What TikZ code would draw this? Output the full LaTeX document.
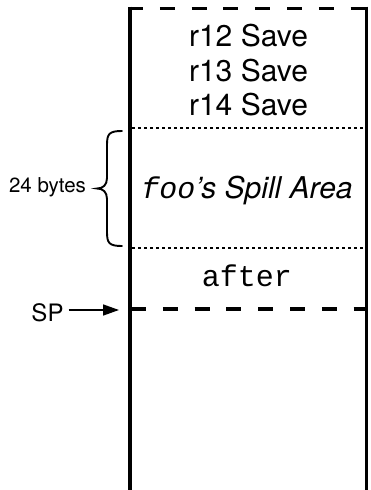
\documentclass[tikz,border=0pt]{standalone}
\usepackage{fontspec}
\setmainfont{TeX Gyre Heros}
\newfontfamily\monofont{Liberation Mono}
\usetikzlibrary{arrows.meta}
\tikzset{
  wall/.style={line width=4pt},
  rwall/.style={line width=2.5pt},
  bigdash/.style={line width=3.6pt, dash pattern=on 15pt off 16.8pt},
  smalldot/.style={line width=1.6pt, dash pattern=on 3pt off 3pt},
  lbl/.style={anchor=base, inner sep=0pt, font=\fontsize{30}{34}\selectfont},
  sidelbl/.style={anchor=base, inner sep=0pt},
  bracestyle/.style={line width=1.9pt, line cap=round},
}
\begin{document}
\begin{tikzpicture}[x=1pt,y=-1pt]
\useasboundingbox (0,0) rectangle (371,490);
% walls
\coordinate (LT) at (130,6.5);
\coordinate (LB) at (130,490);
\coordinate (RT) at (366.5,6.5);
\coordinate (RB) at (366.5,490);
\draw[wall] (LT) -- (LB);
\draw[rwall] (RT) -- (RB);
% top dashed
\coordinate (T1) at (128,8.5);
\coordinate (T2) at (366.5,8.5);
\draw[bigdash] (T1) -- (T2);
% dotted separators
\coordinate (D1a) at (132,128);
\coordinate (D1b) at (366,128);
\coordinate (D2a) at (132,248);
\coordinate (D2b) at (366,248);
\draw[smalldot] (D1a) -- (D1b);
\draw[smalldot] (D2a) -- (D2b);
% SP dashed
\coordinate (S1) at (131,309);
\coordinate (S2) at (366.5,309);
\draw[bigdash] (S1) -- (S2);
% texts
\node[lbl] (r12) at (248.5,46) {r12 Save};
\node[lbl] (r13) at (248.5,81) {r13 Save};
\node[lbl] (r14) at (248.5,115) {r14 Save};
\node[lbl] (spill) at (247,198) {{\monofont\itshape foo}\itshape ’s Spill Area};
\node[lbl] (after) at (247,286) {\monofont after};
% brace
\coordinate (B1) at (122,131);
\coordinate (BT) at (97,188.5);
\coordinate (B2) at (122,246);
\draw[bracestyle] (B1) .. controls (109,131) and (107,134) .. (107,145) -- (107,178)
  .. controls (107,185) and (103,188.5) .. (BT)
  .. controls (103,188.5) and (107,192) .. (107,199) -- (107,232)
  .. controls (107,243) and (109,246) .. (B2);
\node[sidelbl, font=\fontsize{20.5}{24}\selectfont] (bytes) at (47.5,192) {24 bytes};
% SP arrow
\node[sidelbl, font=\fontsize{24}{28}\selectfont] (sp) at (47.5,321) {SP};
\coordinate (SPtip) at (119,310);
\draw[line width=1.6pt, -{Triangle[length=16pt,width=11pt]}] (sp.east |- SPtip) ++(5,0) -- (SPtip);
\end{tikzpicture}
\end{document}
